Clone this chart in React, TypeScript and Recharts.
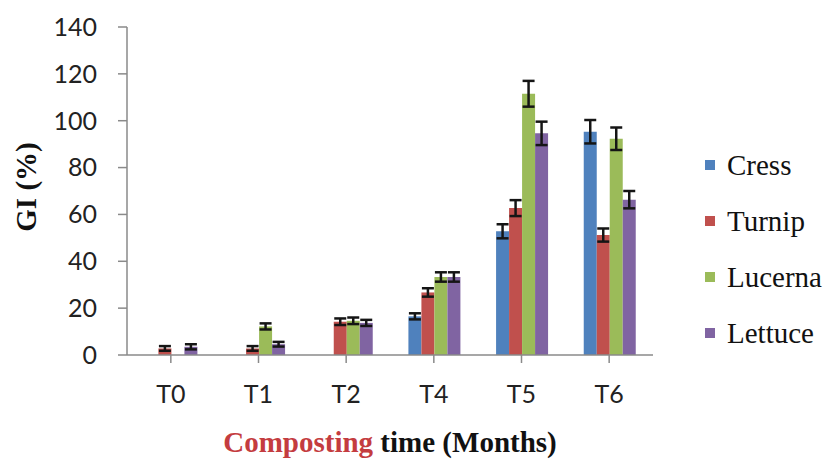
import React from 'react';
import { BarChart, Bar, XAxis, YAxis, ErrorBar, Legend, Label } from 'recharts';

// Sampling times and germination index (%) per test plant, with ± error
const categories = ['T0', 'T1', 'T2', 'T4', 'T5', 'T6'];
const cress = [0, 0, 0, 16.5, 52.8, 95.3];
const turnip = [2.8, 2.8, 14.2, 26.7, 62.7, 51.2];
const lucerna = [0, 12.2, 14.6, 33.3, 111.5, 92.3];
const lettuce = [3.5, 4.6, 13.7, 33.3, 94.6, 66.3];
const cressErr = [null, null, null, 1.3, 3, 5];
const turnipErr = [1, 1, 1.4, 1.8, 3.4, 2.8];
const lucernaErr = [null, 1.3, 1.4, 2, 5.5, 4.8];
const lettuceErr = [1.1, 1, 1.3, 2, 5, 3.7];
const yTicks = [0, 20, 40, 60, 80, 100, 120, 140];

const series = [
  { key: 'Cress', err: 'CressErr', color: '#4F81BD' },
  { key: 'Turnip', err: 'TurnipErr', color: '#C0504D' },
  { key: 'Lucerna', err: 'LucernaErr', color: '#9BBB59' },
  { key: 'Lettuce', err: 'LettuceErr', color: '#8064A2' },
];

const data = categories.map((name, i) => ({
  name,
  Cress: cress[i],
  CressErr: cressErr[i],
  Turnip: turnip[i],
  TurnipErr: turnipErr[i],
  Lucerna: lucerna[i],
  LucernaErr: lucernaErr[i],
  Lettuce: lettuce[i],
  LettuceErr: lettuceErr[i],
}));

const SERIF = "'Liberation Serif', 'Times New Roman', serif";
const tickFont = { fontFamily: 'Lato, sans-serif', fontSize: 25, fill: '#222' };
const titleFont = { fontFamily: SERIF, fontWeight: 700, fontSize: 29 };

const YTitle = () => (
  <text
    x={26}
    y={187}
    transform="rotate(-90 26 187)"
    textAnchor="middle"
    dominantBaseline="central"
    fill="#111"
    style={titleFont}
  >
    GI (%)
  </text>
);

const XTitle = () => (
  <text x={390} y={452} textAnchor="middle" style={titleFont}>
    <tspan fill="#C43C3F">Composting</tspan>
    <tspan fill="#111"> time (Months)</tspan>
  </text>
);

// Vertical legend: small colour squares with serif names
const LegendBox = () => (
  <svg width={130} height={230} style={{ display: 'block' }}>
    {series.map((s, i) => (
      <g key={s.key} transform={`translate(0, ${i * 56})`}>
        <rect x={0} y={13} width={10} height={10} fill={s.color} />
        <text x={22} y={28} fill="#111" style={{ fontFamily: SERIF, fontSize: 29 }}>
          {s.key}
        </text>
      </g>
    ))}
  </svg>
);

export default function App() {
  return (
    <div style={{ position: 'absolute', left: 0, top: 0, background: '#fff' }}>
      <BarChart
        width={832}
        height={460}
        data={data}
        margin={{ top: 27, right: 179, bottom: 0, left: 0 }}
        barCategoryGap="21%"
        barGap={0}
      >
        <XAxis
          dataKey="name"
          height={105}
          tick={tickFont}
          tickSize={8}
          tickMargin={22}
          axisLine={{ stroke: '#8a8a8a', strokeWidth: 1.5 }}
          tickLine={{ stroke: '#8a8a8a', strokeWidth: 1.5 }}
        >
          <Label content={XTitle} />
        </XAxis>
        <YAxis
          width={127}
          domain={[0, 140]}
          ticks={yTicks}
          interval={0}
          tick={tickFont}
          tickSize={9}
          tickMargin={21}
          axisLine={{ stroke: '#8a8a8a', strokeWidth: 1.5 }}
          tickLine={{ stroke: '#8a8a8a', strokeWidth: 1.5 }}
        >
          <Label content={YTitle} />
        </YAxis>
        <Legend
          layout="vertical"
          align="center"
          verticalAlign="middle"
          wrapperStyle={{ left: 705, top: 147, width: 130 }}
          content={LegendBox}
        />
        {series.map((s) => (
          <Bar key={s.key} dataKey={s.key} fill={s.color} isAnimationActive={false}>
            <ErrorBar dataKey={s.err} width={6} strokeWidth={2.5} stroke="#151515" direction="y" />
          </Bar>
        ))}
      </BarChart>
    </div>
  );
}
